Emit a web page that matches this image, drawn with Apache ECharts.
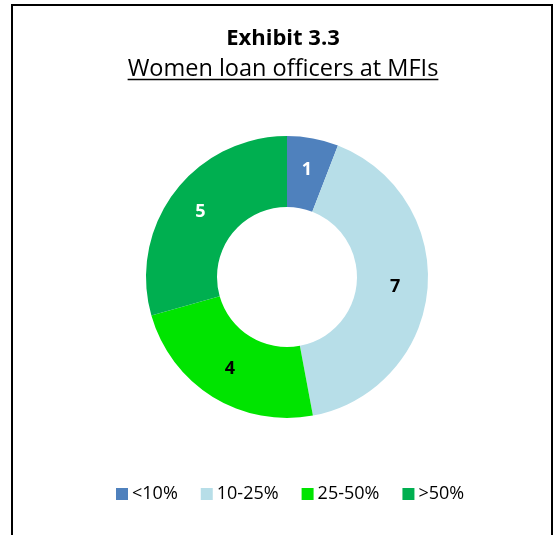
<!DOCTYPE html>
<html>
<head>
<meta charset="utf-8">
<script src="https://cdn.jsdelivr.net/npm/echarts@6/dist/echarts.min.js"></script>
<style>
  html, body { margin: 0; padding: 0; background: #fff; }
  #chart { width: 554px; height: 535px; }
</style>
</head>
<body>
<div id="chart"></div>
<script>
// Share of women among loan officers: number of MFIs in each band
const categories = ['<10%', '10-25%', '25-50%', '>50%'];
const counts = [1, 7, 4, 5];
const sliceColors = ['#4F81BD', '#B7DEE8', '#00E400', '#00AF50'];
const labelColors = ['#ffffff', '#000000', '#000000', '#ffffff'];

const titleText = 'Exhibit 3.3';
const subtitleText = 'Women loan officers at MFIs';

const FONT = '"Open Sans", sans-serif';
const TITLE_SIZE = 22;
const SUB_SIZE = 23.5;
const SUB_FONT = SUB_SIZE + 'px ' + FONT;

// measure the subtitle so the underline spans exactly its width
const ctx = document.createElement('canvas').getContext('2d');
ctx.font = SUB_FONT;
const subWidth = ctx.measureText(subtitleText).width;
const midX = 283;

// text is top-aligned; baseline sits about 0.79em below the top
const titleBaseline = 45;
const subBaseline = 76;

const chart = echarts.init(document.getElementById('chart'), null, { renderer: 'canvas' });

chart.setOption({
  animation: false,
  backgroundColor: '#ffffff',
  graphic: [
    {
      type: 'rect',
      shape: { x: 12, y: 5, width: 540, height: 540 },
      style: { fill: 'none', stroke: '#000000', lineWidth: 2 },
      silent: true
    },
    {
      type: 'text',
      x: midX,
      y: titleBaseline - 0.79 * TITLE_SIZE,
      style: {
        text: titleText,
        font: 'bold ' + TITLE_SIZE + 'px ' + FONT,
        fill: '#000000',
        align: 'center',
        verticalAlign: 'top'
      }
    },
    {
      type: 'text',
      x: midX,
      y: subBaseline - 0.79 * SUB_SIZE,
      style: {
        text: subtitleText,
        font: SUB_FONT,
        fill: '#000000',
        align: 'center',
        verticalAlign: 'top'
      }
    },
    {
      type: 'line',
      shape: { x1: midX - subWidth / 2, y1: 79.5, x2: midX + subWidth / 2, y2: 79.5 },
      style: { stroke: '#000000', lineWidth: 1.5 },
      silent: true
    }
  ],
  legend: {
    data: categories,
    bottom: 27,
    left: 111,
    padding: [5, 5, 5, 5],
    itemWidth: 12,
    itemHeight: 12,
    itemGap: 23,
    icon: 'rect',
    textStyle: { fontFamily: FONT, fontSize: 18, color: '#000000', padding: [0, 0, 0, -1] }
  },
  series: [{
    type: 'pie',
    center: [287, 277],
    radius: [70, 141],
    startAngle: 90,
    clockwise: true,
    avoidLabelOverlap: false,
    silent: true,
    label: {
      show: true,
      position: 'inside',
      formatter: '{c}',
      fontFamily: FONT,
      fontWeight: 'bold',
      fontSize: 18
    },
    labelLine: { show: false },
    itemStyle: { borderWidth: 0 },
    data: categories.map((name, i) => ({
      name: name,
      value: counts[i],
      itemStyle: { color: sliceColors[i] },
      label: { color: labelColors[i] }
    }))
  }]
});
</script>
</body>
</html>
